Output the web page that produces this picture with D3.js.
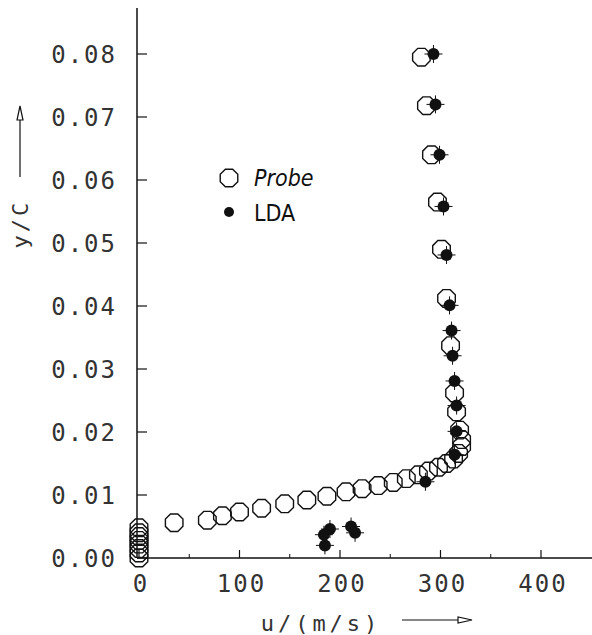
<!DOCTYPE html>
<html>
<head>
<meta charset="utf-8">
<script src="https://cdn.jsdelivr.net/npm/d3@7"></script>
<style>
body { margin: 0; background: #fff; }
svg text { font-family: "DejaVu Sans Mono", monospace; fill: #333; }
.leg { font-family: "Liberation Sans Narrow", "DejaVu Sans Condensed", sans-serif; fill: #111; }
</style>
</head>
<body>
<div id="chart"></div>
<script>
// probe (open octagons)
var probeU = [0, 0, 0, 0, 0, 0, 0, 0,
	35, 68, 83, 100, 122, 145, 167, 187, 206, 222, 238, 253, 266, 278, 288, 298, 306, 313, 318, 321, 321, 319, 316, 314, 310, 306, 301, 297, 291, 286, 281];
var probeY = [0.0000, 0.0008, 0.0015, 0.0022, 0.0028, 0.0034, 0.0040, 0.0048,
	0.0056, 0.0060, 0.0067, 0.0073, 0.0079, 0.0086, 0.0092, 0.0098, 0.0105, 0.0110, 0.0115, 0.0120, 0.0126, 0.0132, 0.0138, 0.0144, 0.0150, 0.0157, 0.0166, 0.0177, 0.0188, 0.0203, 0.0232, 0.0262, 0.0337, 0.0412, 0.0490, 0.0565, 0.0640, 0.0718, 0.0795];

// LDA (filled dots)
var ldaU = [185, 184, 190, 211, 215, 285, 314, 316, 316, 314, 312, 311, 309, 306, 303, 299, 295, 293];
var ldaY = [0.0020, 0.0037, 0.0046, 0.0050, 0.0040, 0.0121, 0.0164, 0.0201, 0.0242, 0.0281, 0.0321, 0.0361, 0.0401, 0.0481, 0.0558, 0.0640, 0.0720, 0.0800];

var xTicks = [0, 100, 200, 300, 400];
var xMinor = [50, 150, 250, 350];
var yTicks = [0, 0.01, 0.02, 0.03, 0.04, 0.05, 0.06, 0.07, 0.08];

var conf = { width: 592, height: 635 };

var x = d3.scaleLinear().domain([0, 400]).range([139, 541]);
var y = d3.scaleLinear().domain([0, 0.08]).range([558, 54]);

var $svg = d3.select("#chart").append("svg")
	.attr("width", conf.width)
	.attr("height", conf.height);

// axes lines
$svg.append("line")
	.attr("x1", 137).attr("y1", 8)
	.attr("x2", 137).attr("y2", y(0))
	.attr("stroke", "#111").attr("stroke-width", 1.5);
$svg.append("line")
	.attr("x1", 137).attr("y1", y(0))
	.attr("x2", 592).attr("y2", y(0))
	.attr("stroke", "#111").attr("stroke-width", 1.5);

// y ticks, drawn inward
yTicks.forEach(function(t) {
	$svg.append("line")
		.attr("x1", 137).attr("x2", 147)
		.attr("y1", y(t)).attr("y2", y(t))
		.attr("stroke", "#111").attr("stroke-width", 1.2);
	$svg.append("text")
		.attr("x", 117).attr("y", y(t))
		.attr("dy", "0.36em")
		.attr("text-anchor", "end")
		.style("font-size", "24px")
		.style("letter-spacing", "2px")
		.text(d3.format(".2f")(t));
});

xTicks.forEach(function(t) {
	$svg.append("line")
		.attr("x1", x(t)).attr("x2", x(t))
		.attr("y1", y(0)).attr("y2", y(0) - 8)
		.attr("stroke", "#111").attr("stroke-width", 1.2);
	$svg.append("text")
		.attr("x", x(t) + 2).attr("y", 592)
		.attr("text-anchor", "middle")
		.style("font-size", "24px")
		.style("letter-spacing", "2px")
		.text(t);
});
xMinor.forEach(function(t) {
	$svg.append("line")
		.attr("x1", x(t)).attr("x2", x(t))
		.attr("y1", y(0)).attr("y2", y(0) - 4)
		.attr("stroke", "#111").attr("stroke-width", 1);
});

// axis titles with arrows
$svg.append("text")
	.attr("transform", "translate(28,224) rotate(-90)")
	.attr("text-anchor", "middle")
	.style("font-size", "22px")
	.style("letter-spacing", "3px")
	.text("y/C");
$svg.append("line")
	.attr("x1", 20).attr("y1", 177).attr("x2", 20).attr("y2", 118)
	.attr("stroke", "#111").attr("stroke-width", 1.2);
$svg.append("path")
	.attr("d", "M20,106 L17,120 L23,120 Z")
	.attr("fill", "#fff").attr("stroke", "#111").attr("stroke-width", 1.2);

$svg.append("text")
	.attr("x", 321).attr("y", 631)
	.attr("text-anchor", "middle")
	.style("font-size", "22px")
	.style("letter-spacing", "4px")
	.text("u/(m/s)");
$svg.append("line")
	.attr("x1", 402).attr("y1", 620).attr("x2", 460).attr("y2", 620)
	.attr("stroke", "#111").attr("stroke-width", 1.2);
$svg.append("path")
	.attr("d", "M472,620 L458,617 L458,623 Z")
	.attr("fill", "#fff").attr("stroke", "#111").attr("stroke-width", 1.2);

// octagon marker
var octagon = function(cx, cy, r) {
	var pts = d3.range(8).map(function(i) {
		var a = Math.PI / 8 + i * Math.PI / 4;
		return [cx + r * Math.cos(a), cy + r * Math.sin(a)];
	});
	return "M" + pts.join("L") + "Z";
};

var probeData = probeU.map(function(u, i) { return { u: u, yc: probeY[i] }; });
var ldaData = ldaU.map(function(u, i) { return { u: u, yc: ldaY[i] }; });

$svg.selectAll("path.probe").data(probeData)
	.enter().append("path")
	.attr("class", "probe")
	.attr("d", function(d) { return octagon(x(d.u), y(d.yc), 9.5); })
	.attr("fill", "none")
	.attr("stroke", "#111")
	.attr("stroke-width", 1.4);

var $lda = $svg.selectAll("g.lda").data(ldaData)
	.enter().append("g")
	.attr("class", "lda")
	.attr("transform", function(d) { return "translate(" + x(d.u) + "," + y(d.yc) + ")"; });
$lda.append("line")
	.attr("x1", -9).attr("x2", 9).attr("y1", 0).attr("y2", 0)
	.attr("stroke", "#111").attr("stroke-width", 1);
$lda.append("line")
	.attr("x1", 0).attr("x2", 0).attr("y1", -9).attr("y2", 9)
	.attr("stroke", "#111").attr("stroke-width", 1);
$lda.append("circle")
	.attr("r", 6)
	.attr("fill", "#111");

// legend
$svg.append("path")
	.attr("d", octagon(229, 178, 9.5))
	.attr("fill", "none").attr("stroke", "#111").attr("stroke-width", 1.4);
$svg.append("text")
	.attr("class", "leg")
	.attr("x", 254).attr("y", 186)
	.style("font-size", "23px")
	.style("font-style", "italic")
	.text("Probe");
$svg.append("circle")
	.attr("cx", 229).attr("cy", 212).attr("r", 5)
	.attr("fill", "#111");
$svg.append("text")
	.attr("class", "leg")
	.attr("x", 254).attr("y", 221)
	.style("font-size", "23px")
	.text("LDA");
</script>
</body>
</html>
